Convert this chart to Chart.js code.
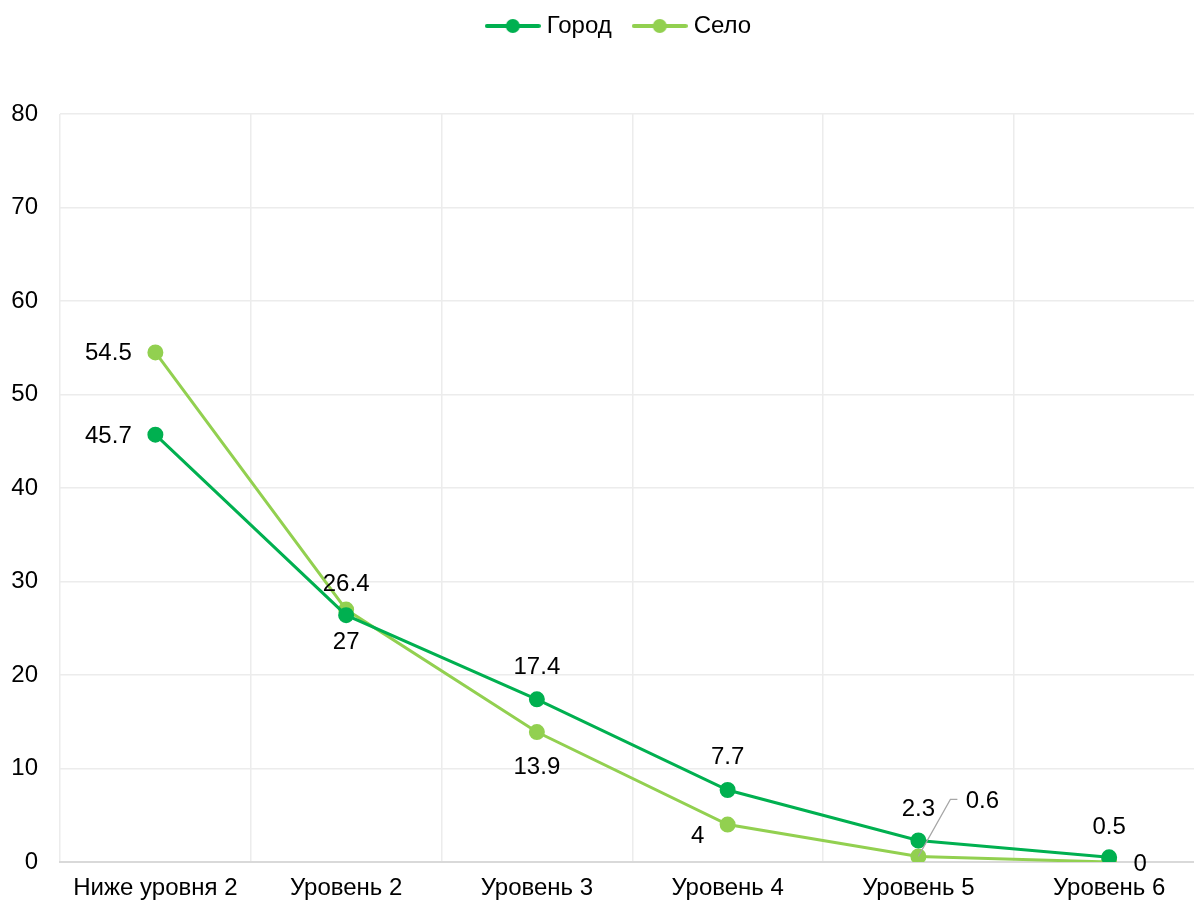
<!DOCTYPE html>
<html>
<head>
<meta charset="utf-8">
<script src="https://cdn.jsdelivr.net/npm/chart.js@4/dist/chart.umd.min.js"></script>
<style>
  html, body { margin: 0; padding: 0; background: #fff; overflow: hidden; }
  #line-chart { display: block; }
</style>
</head>
<body>
<canvas id="line-chart" width="1214" height="905"></canvas>
<script>
const categories = ["Ниже уровня 2", "Уровень 2", "Уровень 3", "Уровень 4", "Уровень 5", "Уровень 6"];
const gorod = [45.7, 26.4, 17.4, 7.7, 2.3, 0.5];
const selo = [54.5, 27, 13.9, 4, 0.6, 0];
const yMin = 0, yMax = 80, yStep = 10;

const colorGorod = "#00b050";
const colorSelo = "#92d050";
const fontFamily = "'Liberation Sans', Arial, sans-serif";

// label placement (dx, dy from the point), kept apart from the values
const gorodLabelPos = [[-47, 2], [0, -31], [0, -32], [0, -33], [0, -31], [0, -30]];
const seloLabelPos = [[-47, 1], [0, 33], [0, 35], [-30, 12], [64, -55], [31, 2]];
const seloLeader = [null, null, null, null, [[32, -57], [39, -57]], null];

function legendIcon(color) {
  const c = document.createElement("canvas");
  c.width = 56; c.height = 16;
  const g = c.getContext("2d");
  g.strokeStyle = color;
  g.lineWidth = 4;
  g.lineCap = "round";
  g.beginPath(); g.moveTo(2, 8); g.lineTo(54, 8); g.stroke();
  g.fillStyle = color;
  g.beginPath(); g.arc(28, 8, 7, 0, Math.PI * 2); g.fill();
  return c;
}

const valueLabels = {
  id: "valueLabels",
  afterDatasetsDraw(chart) {
    const ctx = chart.ctx;
    ctx.save();
    ctx.font = "24px " + fontFamily;
    ctx.fillStyle = "#000";
    ctx.textAlign = "center";
    ctx.textBaseline = "middle";
    chart.data.datasets.forEach((ds, i) => {
      const meta = chart.getDatasetMeta(i);
      meta.data.forEach((pt, j) => {
        const off = ds.labelPos[j];
        if (ds.leader && ds.leader[j]) {
          ctx.strokeStyle = "#a6a6a6";
          ctx.lineWidth = 1.2;
          ctx.beginPath();
          ctx.moveTo(pt.x, pt.y);
          ds.leader[j].forEach(p => ctx.lineTo(pt.x + p[0], pt.y + p[1]));
          ctx.stroke();
        }
        ctx.fillText(String(ds.data[j]), pt.x + off[0], pt.y + off[1]);
      });
    });
    ctx.restore();
  }
};

const legendSpace = {
  id: "legendSpace",
  beforeInit(chart) {
    const fit = chart.legend.fit;
    chart.legend.fit = function () {
      fit.call(this);
      this.height += 54;
    };
  },
  beforeDraw(chart) {
    // centre the legend over the visible part of the page
    const shift = 621 - (chart.legend.left + chart.legend.right) / 2;
    chart.legend.left += shift;
    chart.legend.right += shift;
    chart.legend.top -= 12;
  }
};

new Chart(document.getElementById("line-chart"), {
  type: "line",
  data: {
    labels: categories,
    datasets: [{
      label: "Город",
      data: gorod,
      labelPos: gorodLabelPos,
      borderColor: colorGorod,
      backgroundColor: colorGorod,
      pointBackgroundColor: colorGorod,
      pointBorderColor: colorGorod,
      borderWidth: 3,
      pointRadius: 6.5,
      fill: false,
      tension: 0
    }, {
      label: "Село",
      data: selo,
      labelPos: seloLabelPos,
      leader: seloLeader,
      borderColor: colorSelo,
      backgroundColor: colorSelo,
      pointBackgroundColor: colorSelo,
      pointBorderColor: colorSelo,
      borderWidth: 3,
      pointRadius: 6.5,
      fill: false,
      tension: 0
    }]
  },
  options: {
    responsive: false,
    animation: false,
    layout: { padding: { left: 0, right: 0, top: 0, bottom: 0 } },
    plugins: {
      title: { display: false },
      tooltip: { enabled: false },
      legend: {
        display: true,
        position: "top",
        labels: {
          usePointStyle: true,
          pointStyleWidth: 44,
          padding: 26,
          color: "#000",
          font: { family: fontFamily, size: 24 },
          generateLabels(chart) {
            return chart.data.datasets.map((ds, i) => ({
              text: ds.label,
              fillStyle: ds.borderColor,
              strokeStyle: ds.borderColor,
              pointStyle: legendIcon(ds.borderColor),
              datasetIndex: i,
              hidden: false,
              lineWidth: 0
            }));
          }
        }
      }
    },
    scales: {
      x: {
        offset: true,
        afterFit(scale) {
          scale.height = 43;
          scale.paddingLeft = 0;
          scale.paddingRight = 0;
        },
        grid: { offset: true, color: "#ececec", lineWidth: 1.5, drawTicks: false },
        border: { display: true, color: "#d9d9d9", width: 2 },
        ticks: { color: "#000", padding: 12, font: { family: fontFamily, size: 24 }, maxRotation: 0, autoSkip: false }
      },
      y: {
        min: yMin,
        max: yMax,
        afterFit(scale) { scale.width = 60; },
        grid: { color: "#ececec", lineWidth: 1.5, drawTicks: false },
        border: { display: false },
        ticks: { stepSize: yStep, color: "#000", padding: 22, font: { family: fontFamily, size: 24 } }
      }
    }
  },
  plugins: [valueLabels, legendSpace]
});
</script>
</body>
</html>
